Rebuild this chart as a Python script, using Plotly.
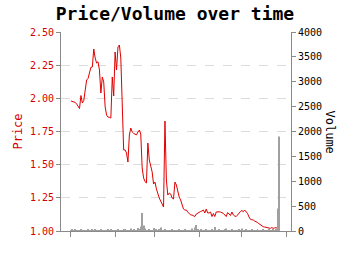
import pandas as pd
import plotly.graph_objects as go

start_date = "2021-01-01"
price = [1.980, 1.978, 1.973, 1.969, 1.957, 1.938, 1.923, 2.021, 1.965, 1.984,
         2.063, 2.138, 2.150, 2.199, 2.234, 2.236, 2.372, 2.304, 2.266, 2.276,
         2.214, 2.040, 2.161, 2.123, 1.935, 1.874, 1.859, 1.857, 1.852, 2.161,
         2.018, 2.349, 2.214, 2.387, 2.402, 2.304, 1.912, 1.611, 1.611, 1.588,
         1.520, 1.724, 1.776, 1.746, 1.736, 1.731, 1.724, 1.746, 1.761, 1.731,
         1.475, 1.400, 1.372, 1.362, 1.663, 1.535, 1.490, 1.445, 1.354, 1.369,
         1.317, 1.271, 1.249, 1.226, 1.196, 1.181, 1.829, 1.384, 1.271, 1.286,
         1.279, 1.249, 1.241, 1.369, 1.347, 1.286, 1.256, 1.234, 1.188, 1.166,
         1.158, 1.158, 1.143, 1.128, 1.121, 1.121, 1.117, 1.109, 1.128, 1.136,
         1.143, 1.147, 1.151, 1.158, 1.136, 1.166, 1.136, 1.136, 1.143, 1.109,
         1.132, 1.109, 1.143, 1.145, 1.145, 1.143, 1.139, 1.133, 1.121, 1.109,
         1.139, 1.128, 1.117, 1.143, 1.121, 1.113, 1.109, 1.121, 1.136, 1.147,
         1.155, 1.145, 1.158, 1.147, 1.132, 1.106, 1.088, 1.085, 1.083, 1.075,
         1.072, 1.064, 1.055, 1.045, 1.038, 1.032, 1.030, 1.028, 1.024, 1.020,
         1.020, 1.026, 1.020, 1.023, 1.025, 1.020, 1.015]
volume = [10, 25, 5, 30, 15, 20, 10, 35, 5, 15,
          20, 10, 30, 5, 15, 25, 10, 40, 20, 5,
          15, 30, 10, 20, 5, 15, 35, 10, 25, 15,
          20, 10, 5, 30, 15, 20, 10, 35, 25, 15,
          20, 10, 50, 15, 25, 10, 20, 60, 30, 90,
          360, 110, 50, 20, 15, 30, 10, 20, 60, 15,
          25, 10, 30, 70, 20, 15, 35, 10, 20, 5,
          15, 30, 10, 20, 5, 15, 25, 10, 20, 15,
          30, 10, 20, 5, 15, 50, 20, 70, 120, 40,
          15, 25, 10, 20, 5, 30, 15, 20, 10, 25,
          15, 80, 20, 10, 30, 15, 20, 10, 25, 50,
          15, 20, 10, 30, 5, 15, 20, 10, 35, 15,
          50, 20, 15, 30, 10, 20, 15, 25, 10, 20,
          15, 30, 10, 20, 15, 25, 10, 20, 15, 30,
          20, 15, 25, 10, 30, 450, 1900]

dates = pd.date_range(start_date, periods=len(price), freq="D")
axis_grey = "#8a8a8a"

fig = go.Figure()
fig.add_trace(go.Scatter(x=dates, y=price, mode="lines",
                         line=dict(color="#e00000", width=1), yaxis="y"))
fig.add_trace(go.Bar(x=dates, y=volume, marker=dict(color="#a0a0a0", line=dict(width=0)),
                     yaxis="y2"))

fig.update_layout(
    width=350, height=255,
    margin=dict(l=61, r=59, t=32, b=24),
    paper_bgcolor="white", plot_bgcolor="white",
    showlegend=False, bargap=0.35,
    title=dict(text="<b>Price/Volume over time</b>", x=0.5, xanchor="center",
               y=0.945, yanchor="middle",
               font=dict(family="DejaVu Sans Mono", size=18, color="black")),
    xaxis=dict(type="date", range=["2020-12-25", "2021-06-04 12:00"],
               showticklabels=False, ticks="outside", ticklen=5, tickcolor=axis_grey,
               tick0="2021-01-01", dtick="M1",
               showline=True, linecolor=axis_grey, linewidth=1,
               showgrid=False, zeroline=False),
    yaxis=dict(range=[1, 2.5], dtick=0.25, tickformat=".2f",
               ticks="outside", ticklen=4, tickcolor=axis_grey,
               showline=True, linecolor=axis_grey, linewidth=1,
               showgrid=True, gridcolor="#dcdcdc", griddash="dash", gridwidth=1,
               zeroline=False,
               tickfont=dict(family="DejaVu Sans Mono", size=10, color="#d40000"),
               title=dict(text="Price", standoff=4,
                          font=dict(family="DejaVu Sans Mono", size=12, color="#d40000"))),
    yaxis2=dict(range=[0, 4000], dtick=500, overlaying="y", side="right",
                ticks="outside", ticklen=4, tickcolor=axis_grey,
                showline=True, linecolor=axis_grey, linewidth=1,
                showgrid=False, zeroline=False,
                tickfont=dict(family="DejaVu Sans Mono", size=10, color="black")),
    annotations=[dict(text="Volume", textangle=90, xref="paper", yref="paper",
                      x=1.0, y=0.5, xshift=48, showarrow=False,
                      font=dict(family="DejaVu Sans Mono", size=12, color="black"))],
)

fig.write_html("out.html")
